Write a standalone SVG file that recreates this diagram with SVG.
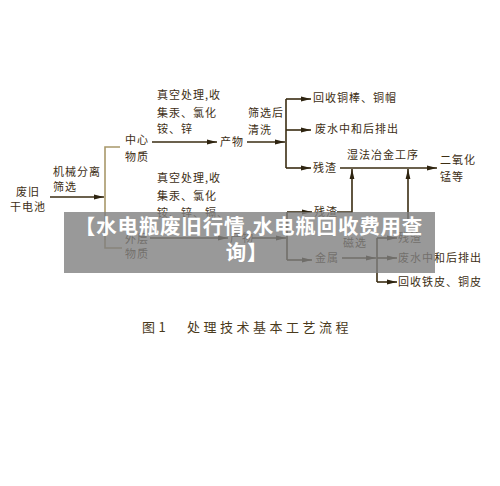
<svg xmlns="http://www.w3.org/2000/svg" width="500" height="486" viewBox="0 0 500 486">
<defs>
<marker id="ah" viewBox="0 0 10 6" refX="10" refY="3" markerWidth="10" markerHeight="6" markerUnits="userSpaceOnUse" orient="auto">
<path d="M0,0.6 L10,3 L0,5.4 Z" fill="#2e2410"/>
</marker>
<style>
.t{font-family:"Noto Sans CJK SC","Liberation Serif",sans-serif;font-size:11px;fill:#3d2e14;letter-spacing:1px}
.c{fill:none;stroke:#3a2c12;stroke-width:1.6}
.a{marker-end:url(#ah)}
.br{fill:none;stroke:#a8986a;stroke-width:1.6}
.cap{font-family:"Noto Sans CJK SC","Liberation Serif",sans-serif;font-size:13px;fill:#4a3a1c;letter-spacing:3.5px}
.ov{font-family:"Noto Sans CJK SC","Liberation Sans",sans-serif;font-size:20.5px;font-weight:bold;fill:#ffffff;letter-spacing:0.8px}
</style>
</defs>
<rect width="500" height="486" fill="#ffffff"/>
<g id="connectors">
<path class="c a" d="M50,197 H104"/>
<path class="br" d="M120,147 H105 V248 H122"/>
<path class="c a" d="M152,142 H217"/>
<path class="c a" d="M247,142 H285"/>
<path class="c" d="M286,99 V168"/>
<path class="c a" d="M286,99 H311"/>
<path class="c a" d="M286,130 H311"/>
<path class="c a" d="M286,168 H311"/>
<path class="c a" d="M340,168 H437"/>
<path class="c a" d="M337,212 H352 V169"/>
<path class="c a" d="M408,232 V169"/>
<path class="c a" d="M150,238 H228"/>
<path class="c a" d="M252,238 H286"/>
<path class="c" d="M287,212 V260"/>
<path class="c a" d="M287,212 H312"/>
<path class="c a" d="M287,260 H312"/>
<path class="c a" d="M342,258 H376"/>
<path class="c" d="M377,238 V282"/>
<path class="c a" d="M377,238 H397"/>
<path class="c a" d="M377,258 H397"/>
<path class="c a" d="M377,282 H397"/>
</g>
<g id="n-battery"><text class="t" x="16" y="196">废旧</text><text class="t" x="10" y="211">干电池</text></g>
<g id="n-mech"><text class="t" x="53" y="176">机械分离</text><text class="t" x="53" y="191">筛选</text></g>
<g id="n-center"><text class="t" x="125" y="144">中心</text><text class="t" x="125" y="161">物质</text></g>
<g id="n-outer"><text class="t" x="125" y="243">外层</text><text class="t" x="125" y="258">物质</text></g>
<g id="n-vac1"><text class="t" x="157" y="99">真空处理,收</text><text class="t" x="157" y="117">集汞、氯化</text><text class="t" x="157" y="133">铵、锌</text></g>
<g id="n-vac2"><text class="t" x="157" y="182">真空处理,收</text><text class="t" x="157" y="200">集汞、氯化</text><text class="t" x="157" y="217">铵、锌、镉、</text></g>
<g id="n-prod1"><text class="t" x="220" y="146">产物</text></g>
<g id="n-prod2"><text class="t" x="230" y="242">产物</text></g>
<g id="n-wash"><text class="t" x="248" y="117">筛选后</text><text class="t" x="248" y="134">清洗</text></g>
<g id="n-copper"><text class="t" x="313" y="102">回收铜棒、铜帽</text></g>
<g id="n-water1"><text class="t" x="315" y="133">废水中和后排出</text></g>
<g id="n-res1"><text class="t" x="313" y="172">残渣</text></g>
<g id="n-wet"><text class="t" x="347" y="159">湿法冶金工序</text></g>
<g id="n-mno2"><text class="t" x="440" y="164">二氧化</text><text class="t" x="440" y="181">锰等</text></g>
<g id="n-res2"><text class="t" x="314" y="216">残渣</text></g>
<g id="n-mag"><text class="t" x="343" y="247">磁选</text></g>
<g id="n-metal"><text class="t" x="315" y="262">金属</text></g>
<g id="n-res3"><text class="t" x="398" y="242">残渣</text></g>
<g id="n-water2"><text class="t" x="398" y="262">废水中和后排出</text></g>
<g id="n-iron"><text class="t" x="398" y="286">回收铁皮、铜皮</text></g>
<g id="caption"><text class="cap" x="142" y="332">图1</text><text class="cap" x="187" y="332">处理技术基本工艺流程</text></g>
<g id="overlay">
<rect x="64" y="212" width="371" height="61" fill="#808080" fill-opacity="0.8"/>
<text class="ov" x="249" y="234" text-anchor="middle">【水电瓶废旧行情,水电瓶回收费用查</text>
<text class="ov" x="247" y="260" text-anchor="middle">询】</text>
</g>
</svg>
